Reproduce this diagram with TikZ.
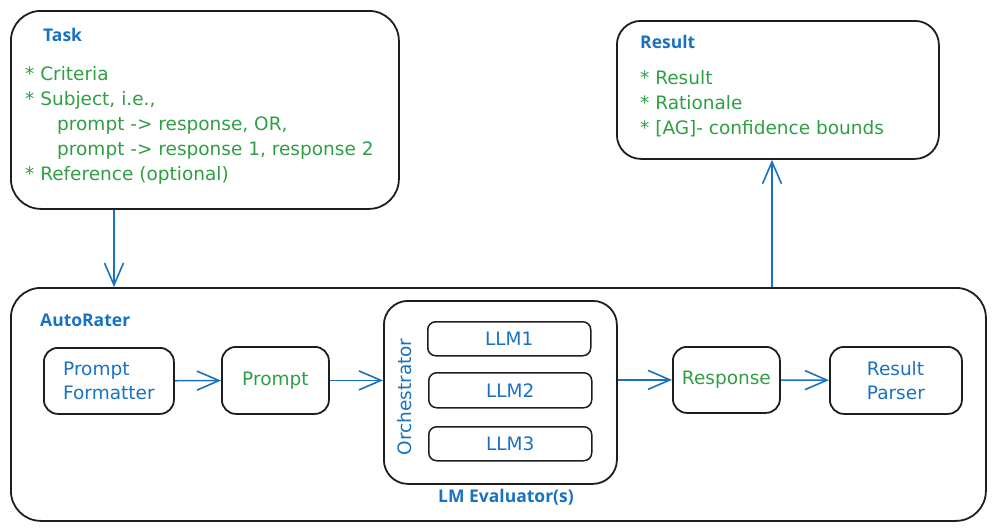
\documentclass[tikz,border=0pt]{standalone}
\usepackage{fontspec}
\setmainfont{Open Sans}
\newfontfamily\handfont{DejaVu Sans}
\usetikzlibrary{arrows.meta}
\definecolor{ink}{HTML}{1E1E1E}
\definecolor{rblue}{HTML}{1971C2}
\definecolor{rgreen}{HTML}{2F9E44}
\tikzset{
  box/.style={draw=ink,line width=1.8pt,rounded corners=#1,anchor=north west,inner sep=0pt},
  box/.default=14pt,
  head/.style={text=rblue,font=\bfseries\fontsize{17.5}{20}\selectfont,anchor=west,inner sep=0pt},
  body/.style={text=rgreen,font=\handfont\fontsize{18.5}{25}\selectfont,align=left,anchor=north west,inner sep=0pt},
  inner/.style={font=\handfont\fontsize{18.5}{24}\selectfont,align=left},
  flow/.style={draw=rblue,line width=1.6pt,-{Straight Barb[length=22pt,width=19pt,line width=1.6pt]}}
}
\begin{document}
\begin{tikzpicture}[x=1pt,y=-1pt]
  \useasboundingbox (0,0) rectangle (994,530);
  % top boxes
  \node[box=30pt,minimum width=388,minimum height=198] (task) at (10,10) {};
  \node[head] (tasktitle) at (43,35) {Task};
  \node[body] (tasktext) at (25,66) {* Criteria\\* Subject, i.e.,\\\hspace*{32pt}prompt -> response, OR,\\\hspace*{32pt}prompt -> response 1, response 2\\* Reference (optional)};
  \node[box=24pt,minimum width=322,minimum height=138] (result) at (616,20) {};
  \node[head] (resulttitle) at (640,42) {Result};
  \node[body] (resulttext) at (640,70) {* Result\\* Rationale\\* [AG]- confidence bounds};
  % autorater
  \node[box=30pt,minimum width=975,minimum height=233] (rater) at (10,287) {};
  \node[head] (ratertitle) at (40,320) {AutoRater};
  \node[box,minimum width=130,minimum height=66,inner,text=rblue] (formatter) at (43,347) {Prompt\\Formatter};
  \node[box,minimum width=107,minimum height=67,inner,text=rgreen] (prompt) at (221,346) {Prompt};
  \node[box=24pt,minimum width=233,minimum height=183] (orch) at (383,300) {};
  \node[rotate=90,text=rblue,font=\handfont\fontsize{18.5}{20}\selectfont] (orchlabel) at (405,397) {Orchestrator};
  \node[box=8pt,line width=1.5pt,minimum width=163,minimum height=34,inner,text=rblue] (llm1) at (427,321) {LLM1};
  \node[box=8pt,line width=1.5pt,minimum width=163,minimum height=35,inner,text=rblue] (llm2) at (428,372) {LLM2};
  \node[box=8pt,line width=1.5pt,minimum width=163,minimum height=34,inner,text=rblue] (llm3) at (428,426) {LLM3};
  \node[head,anchor=center] (evaltitle) at (506,497) {LM Evaluator(s)};
  \node[box,minimum width=107,minimum height=66,inner,text=rgreen] (response) at (672,346) {Response};
  \node[box,minimum width=132,minimum height=67,inner,text=rblue] (parser) at (829,346) {Result\\Parser};
  % connectors
  \draw[flow] ([xshift=104pt]task.south west) -- ([xshift=104pt]rater.north west);
  \draw[flow] ([xshift=762pt]rater.north west) -- ([xshift=156pt]result.south west);
  \draw[flow] (formatter) -- (prompt);
  \draw[flow] (prompt.east) -- (prompt.east -| orch.west);
  \draw[flow] (orch.east |- response.west) -- (response.west);
  \draw[flow] (response) -- (parser);
\end{tikzpicture}
\end{document}
